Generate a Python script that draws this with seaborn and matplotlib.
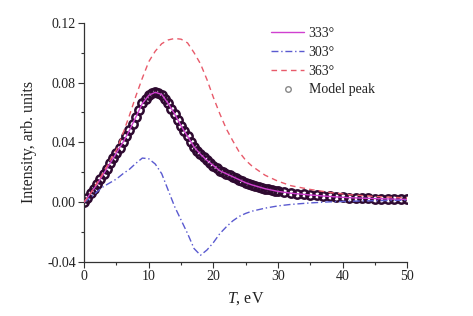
import pandas as pd
import matplotlib.pyplot as plt
import seaborn as sns
from matplotlib.ticker import MultipleLocator

# Values
T = [0, 1, 2, 3, 4, 5, 6, 7, 8, 9, 10, 11, 12, 13, 14, 15, 16, 17, 18, 19,
     20, 21, 22, 23, 24, 25, 26, 28, 30, 32, 35, 38, 41, 45, 50]

i333 = [0.000, 0.006, 0.012, 0.019, 0.026, 0.033, 0.040, 0.048, 0.057, 0.066,
        0.0715, 0.0735, 0.072, 0.066, 0.059, 0.051, 0.044, 0.037, 0.032, 0.028,
        0.0245, 0.021, 0.019, 0.017, 0.015, 0.013, 0.0115, 0.009, 0.0072, 0.006,
        0.0048, 0.0038, 0.003, 0.0024, 0.0018]

i303 = [0.000, 0.003, 0.007, 0.0105, 0.013, 0.0155, 0.019, 0.022, 0.026, 0.0295,
        0.029, 0.0255, 0.019, 0.008, -0.003, -0.012, -0.021, -0.031, -0.0355, -0.032,
        -0.027, -0.021, -0.0165, -0.0125, -0.0095, -0.0075, -0.006, -0.004, -0.0025, -0.0015,
        -0.0005, 0.0002, 0.0006, 0.001, 0.0013]

i363 = [0.000, 0.006, 0.013, 0.020, 0.028, 0.035, 0.046, 0.058, 0.071, 0.083,
        0.094, 0.101, 0.106, 0.1085, 0.1095, 0.109, 0.1065, 0.100, 0.0925, 0.082,
        0.070, 0.059, 0.049, 0.041, 0.0335, 0.028, 0.024, 0.018, 0.014, 0.011,
        0.0085, 0.0065, 0.005, 0.0038, 0.0028]

# model peak points (dense open circles along the 333 curve)
T_model = [0, 0.5, 1, 1.5, 2, 2.5, 3, 3.5, 4, 4.5, 5, 5.5, 6, 6.5, 7, 7.5, 8, 8.5,
           9, 9.5, 10, 10.5, 11, 11.5, 12, 12.5, 13, 13.5, 14, 14.5, 15, 15.5, 16,
           16.5, 17, 17.5, 18, 18.5, 19, 19.5, 20, 20.5, 21, 21.5, 22, 22.5, 23,
           23.5, 24, 24.5, 25, 25.5, 26, 26.5, 27, 27.5, 28, 28.5, 29, 29.5, 30,
           31, 32, 33, 34, 35, 36, 37, 38, 39, 40, 41, 42, 43, 44, 45, 46, 47, 48,
           49, 50]
model_peak = [0.000, 0.003, 0.006, 0.009, 0.012, 0.0155, 0.019, 0.0225, 0.026, 0.0295,
              0.033, 0.0365, 0.040, 0.044, 0.048, 0.0525, 0.057, 0.0615, 0.066, 0.069,
              0.0715, 0.073, 0.0735, 0.073, 0.072, 0.069, 0.066, 0.0625, 0.059, 0.055,
              0.051, 0.0475, 0.044, 0.0405, 0.037, 0.0345, 0.032, 0.030, 0.028, 0.026,
              0.0245, 0.0228, 0.021, 0.020, 0.019, 0.018, 0.017, 0.016, 0.015, 0.014,
              0.013, 0.012, 0.0115, 0.011, 0.0102, 0.0096, 0.009, 0.0085, 0.008, 0.0076,
              0.0072, 0.0066, 0.006, 0.0056, 0.0052, 0.0048, 0.0045, 0.0041, 0.0038, 0.0035,
              0.0033, 0.003, 0.0028, 0.0027, 0.0025, 0.0024, 0.0023, 0.0021, 0.002, 0.0019,
              0.0018]

df = pd.DataFrame({"T": T, "333": i333, "303": i303, "363": i363})
dm = pd.DataFrame({"T": T_model, "model": model_peak})

sns.set_style("ticks")
plt.rcParams["font.family"] = ["Liberation Serif", "DejaVu Serif"]
plt.rcParams["mathtext.fontset"] = "custom"
plt.rcParams["mathtext.it"] = "Liberation Serif:italic"
plt.rcParams["mathtext.rm"] = "Liberation Serif"

fig = plt.figure(figsize=(4.73, 3.16), dpi=100)
ax = fig.add_axes([0.178, 0.171, 0.683, 0.757])

sns.lineplot(data=dm, x="T", y="model", ax=ax, marker="o", linestyle="none",
             markersize=6, markerfacecolor="none", markeredgecolor="#2e0a30",
             markeredgewidth=1.8, label="Model peak", zorder=2)
sns.lineplot(data=df, x="T", y="333", ax=ax, color="#d040d0", linewidth=1.0,
             label="333°", zorder=3)
sns.lineplot(data=df, x="T", y="303", ax=ax, color="#5a5ad0", linewidth=1.0,
             linestyle=(0, (5, 2, 1, 2)), label="303°", zorder=3)
sns.lineplot(data=df, x="T", y="363", ax=ax, color="#e85a6a", linewidth=1.0,
             linestyle=(0, (4, 3)), label="363°", zorder=3)

ax.set_xlim(0, 50)
ax.set_ylim(-0.04, 0.12)
ax.xaxis.set_major_locator(MultipleLocator(10))
ax.xaxis.set_minor_locator(MultipleLocator(5))
ax.yaxis.set_major_locator(MultipleLocator(0.04))
ax.yaxis.set_minor_locator(MultipleLocator(0.02))
ax.yaxis.set_major_formatter(plt.FormatStrFormatter("%.2f"))
ax.tick_params(which="major", direction="out", length=4, width=0.8, labelsize=10,
               colors="#333333", labelcolor="#222222", pad=2)
ax.tick_params(which="minor", direction="out", length=2, width=0.8, colors="#333333")

sns.despine(ax=ax)
for s in ["left", "bottom"]:
    ax.spines[s].set_color("#333333")
    ax.spines[s].set_linewidth(0.9)

ax.set_xlabel("$T$, eV", fontsize=11.5, color="#222222", labelpad=5)
ax.set_ylabel("Intensity, arb. units", fontsize=11.5, color="#222222", labelpad=7)

h, l = ax.get_legend_handles_labels()
order = [l.index(k) for k in ["333°", "303°", "363°", "Model peak"]]
leg = ax.legend([h[i] for i in order], [l[i] for i in order], loc="upper left",
                bbox_to_anchor=(0.54, 1.035), frameon=False, fontsize=10,
                handlelength=2.4, handletextpad=0.3, labelspacing=0.42)
for t in leg.get_texts():
    t.set_color("#222222")
mk = leg.legend_handles[3]
mk.set_markersize(4)
mk.set_markeredgecolor("#888888")
mk.set_markeredgewidth(1.0)

fig.savefig("out.png", dpi=100)
